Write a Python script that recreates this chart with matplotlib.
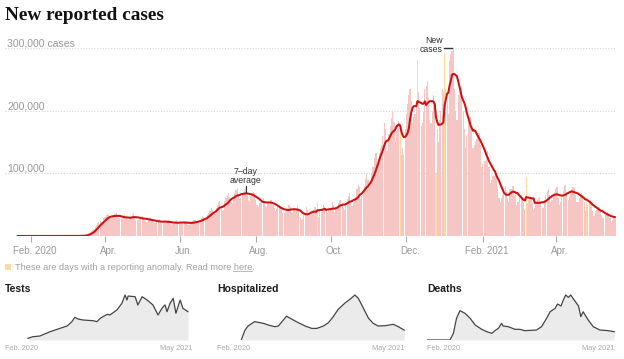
import numpy as np
import pandas as pd
import matplotlib
matplotlib.use('Agg')
import matplotlib.pyplot as plt
import matplotlib.dates as mdates
from matplotlib.transforms import ScaledTranslation
from matplotlib.patches import Rectangle
from matplotlib.lines import Line2D

plt.rcParams['font.family'] = ['Liberation Sans', 'DejaVu Sans']

# ---------------- data ----------------
start_date = '2020-01-21'
# daily new cases, thousands (weeks start on Tuesday)
daily_cases = [
    0, 0, 0, 0, 0, 0, 0,
    0, 0, 0, 0, 0, 0, 0,
    0, 0, 0, 0, 0, 0, 0,
    0, 0, 0, 0, 0, 0, 0,
    0, 0, 0, 0, 0, 0, 0,
    0, 0, 0, 0, 0, 0.01, 0.02,
    0.03, 0.05, 0.07, 0.09, 0.1, 0.13, 0.2,
    0.25, 0.3, 0.4, 0.5, 0.6, 0.8, 1.2,
    2, 3, 4.5, 6.5, 8, 9, 10.5,
    14, 17, 20, 22, 24, 22, 23,
    28, 31, 33, 35, 33, 29, 28,
    31, 33, 35, 36, 32, 29, 28,
    27, 30, 31, 33, 31, 27, 26,
    27, 30, 34, 36, 31, 26, 25,
    25, 28, 30, 32, 29, 25, 24,
    23, 25, 28, 29, 26, 22, 20,
    21, 22, 26, 27, 24, 20, 21,
    21, 22, 24, 26, 23, 19, 18,
    19, 21, 23, 25, 23, 19, 20,
    20, 21, 23, 24, 22, 18, 18,
    19, 22, 24, 26, 25, 21, 20,
    24, 26, 29, 32, 31, 27, 27,
    33, 36, 40, 45, 42, 36, 35,
    44, 50, 54, 56, 46, 40, 42,
    56, 60, 64, 69, 63, 55, 52,
    63, 68, 74, 76, 66, 59, 61,
    65, 71, 75, 78, 66, 58, 56,
    62, 68, 70, 68, 58, 50, 47,
    52, 55, 58, 60, 56, 48, 46,
    52, 55, 57, 58, 50, 44, 40,
    43, 46, 47, 48, 44, 36, 36,
    39, 42, 45, 49, 47, 39, 36,
    42, 40, 43, 49, 43, 31, 25,
    27, 34, 36, 47, 42, 35, 33,
    36, 38, 42, 46, 40, 54, 30,
    40, 39, 45, 49, 47, 40, 36,
    42, 41, 45, 54, 49, 38, 43,
    45, 52, 57, 58, 53, 44, 41,
    52, 59, 64, 69, 56, 48, 52,
    59, 62, 75, 81, 78, 59, 64,
    74, 80, 91, 99, 89, 78, 85,
    100, 110, 124, 133, 133, 115, 133,
    140, 145, 160, 180, 170, 135, 135,
    162, 175, 188, 198, 182, 150, 167,
    178, 184, 175, 130, 140, 130, 170,
    195, 210, 225, 235, 215, 180, 190,
    195, 210, 281, 230, 205, 175, 180,
    198, 235, 240, 248, 220, 185, 180,
    200, 225, 215, 100, 170, 150, 185,
    200, 235, 230, 290, 235, 215, 195,
    280, 290, 295, 300, 235, 200, 185,
    225, 230, 235, 240, 200, 170, 140,
    160, 185, 190, 190, 170, 140, 145,
    150, 155, 165, 165, 145, 110, 115,
    120, 120, 125, 135, 110, 85, 90,
    95, 95, 105, 95, 80, 60, 55,
    60, 65, 70, 80, 70, 60, 55,
    75, 75, 80, 80, 65, 50, 55,
    55, 62, 65, 62, 55, 42, 94,
    52, 58, 62, 60, 52, 42, 45,
    52, 58, 60, 62, 55, 45, 45,
    58, 65, 72, 75, 65, 55, 58,
    65, 70, 75, 78, 60, 50, 55,
    63, 72, 80, 82, 70, 58, 62,
    70, 75, 78, 76, 65, 55, 55,
    60, 65, 68, 65, 55, 40, 54,
    50, 55, 57, 52, 40, 32, 40,
    42, 44, 47, 42, 34, 28, 28,
    33, 36, 39, 36, 28, 21, 25,
    30, 32,
]
anomaly_days = ['2020-09-20', '2020-11-26', '2020-12-10', '2020-12-25',
                '2021-01-01', '2021-03-08', '2021-04-26']

grid_values = [100, 200, 300]
grid_labels = ['100,000', '200,000', '300,000 cases']
tick_dates = ['2020-02-01', '2020-04-01', '2020-06-01', '2020-08-01',
              '2020-10-01', '2020-12-01', '2021-02-01', '2021-04-01']
tick_labels = ['Feb. 2020', 'Apr.', 'Jun.', 'Aug.', 'Oct.', 'Dec.', 'Feb. 2021', 'Apr.']

tests_dates = ['2020-03-20', '2020-04-02', '2020-04-20', '2020-05-16', '2020-06-11',
               '2020-06-29', '2020-07-11', '2020-07-19', '2020-07-27', '2020-08-09',
               '2020-09-04', '2020-09-14', '2020-09-22', '2020-10-10', '2020-10-17',
               '2020-11-04', '2020-11-17', '2020-11-25', '2020-11-30', '2020-12-03',
               '2020-12-21', '2020-12-28', '2021-01-08', '2021-01-21', '2021-02-05',
               '2021-02-18', '2021-02-28', '2021-03-08', '2021-03-13', '2021-03-21',
               '2021-03-29', '2021-04-05', '2021-04-16', '2021-04-23', '2021-05-06']
tests_values = [75, 145, 176, 365, 515, 616, 805, 999, 924, 880,
                849, 805, 955, 1131, 1100, 1320, 1615, 1980, 1760, 1936,
                1905, 1540, 1905, 1760, 1540, 1100, 1395, 1540, 1245, 1615,
                1835, 1175, 1760, 1395, 1245]

hosp_dates = ['2020-03-24', '2020-04-02', '2020-04-10', '2020-04-27', '2020-05-10',
              '2020-05-19', '2020-06-01', '2020-06-18', '2020-06-27', '2020-07-10',
              '2020-07-18', '2020-07-27', '2020-08-17', '2020-09-04', '2020-09-21',
              '2020-10-04', '2020-10-21', '2020-11-03', '2020-11-15', '2020-11-28',
              '2020-12-16', '2020-12-28', '2021-01-10', '2021-01-19', '2021-02-01',
              '2021-02-14', '2021-02-26', '2021-03-11', '2021-03-29', '2021-04-19',
              '2021-05-02', '2021-05-17']
hosp_values = [2, 29, 41, 54, 51, 49, 44, 39, 41, 59,
               70, 64, 51, 41, 34, 34, 41, 51, 68, 90,
               109, 119, 132, 122, 93, 64, 49, 41, 42, 46,
               39, 29]

deaths_dates = ['2020-01-21', '2020-03-20', '2020-03-29', '2020-04-06', '2020-04-15',
                '2020-04-28', '2020-05-11', '2020-05-24', '2020-06-10', '2020-06-23',
                '2020-07-06', '2020-07-14', '2020-07-23', '2020-07-31', '2020-08-04',
                '2020-08-17', '2020-09-04', '2020-09-16', '2020-09-29', '2020-10-29',
                '2020-11-11', '2020-11-24', '2020-12-03', '2020-12-16', '2020-12-22',
                '2020-12-31', '2021-01-06', '2021-01-12', '2021-01-19', '2021-01-25',
                '2021-02-03', '2021-02-14', '2021-02-20', '2021-02-26', '2021-03-11',
                '2021-03-24', '2021-04-10', '2021-05-02', '2021-05-17']
deaths_values = [0, 0, 500, 1630, 2200, 2000, 1630, 1125, 800, 620,
                 500, 700, 880, 1250, 1050, 1000, 800, 800, 700, 750,
                 1000, 1630, 2120, 2380, 2700, 2550, 3000, 3375, 3200, 3375,
                 3000, 2550, 1750, 2120, 1500, 1000, 750, 700, 620]

# ---------------- style ----------------
PINK = '#f6c6c5'
ANOM = '#fcdca4'
RED = '#cf1010'
GRAY_TXT = '#999999'

W, H = 624, 359
fig = plt.figure(figsize=(W / 100, H / 100), dpi=100)


def pax(x0, y0, x1, y1):
    return fig.add_axes([x0 / W, 1 - y1 / H, (x1 - x0) / W, (y1 - y0) / H])


def ftext(x, y, s, **kw):
    return fig.text(x / W, 1 - y / H, s, **kw)


start = pd.Timestamp(start_date)
x_start = mdates.date2num(start)

# ---------------- main chart ----------------
ax = pax(5, 40, 615.5, 236)
dates = pd.date_range(start, periods=len(daily_cases), freq='D')
avg = pd.Series(daily_cases).rolling(7, min_periods=1).mean()
anom = set(pd.to_datetime(anomaly_days))
colors = [ANOM if d in anom else PINK for d in dates]
ax.bar(dates, daily_cases, width=0.92, color=colors, linewidth=0, zorder=2)
ax.plot(dates, avg, color=RED, lw=1.45, zorder=3, solid_joinstyle='round', solid_capstyle='round')
ax.set_xlim(x_start - 10.04, x_start + 484.4)
ax.set_ylim(0, 312.75)

for v, lab in zip(grid_values, grid_labels):
    ax.axhline(v, color='#d4d4d4', lw=0.8, ls=(0, (1, 1.5)), zorder=1)
    ax.text(0.0033, v + 2.5, lab, transform=ax.get_yaxis_transform(),
            va='baseline', ha='left', fontsize=7.6, color=GRAY_TXT)

ax.set_xticks(pd.to_datetime(tick_dates))
ax.set_xticklabels(tick_labels)
ax.tick_params(axis='x', length=4, width=0.8, color='#aaaaaa', labelcolor=GRAY_TXT,
               labelsize=7, pad=3)
ax.tick_params(axis='y', left=False, labelleft=False)
for s in ax.spines.values():
    s.set_visible(False)
offset = ScaledTranslation(3.5 / 100, 0, fig.dpi_scale_trans)
for lab in ax.get_xticklabels():
    lab.set_transform(lab.get_transform() + offset)

# annotations
d7 = pd.Timestamp('2020-07-24')
ax.plot([d7, d7], [68.7, 79], color='#333333', lw=0.8, zorder=4)
ax.text(d7, 102.6, '7–day', ha='center', va='center', fontsize=6.3, color='#333333')
ax.text(d7, 88.2, 'average', ha='center', va='center', fontsize=6.3, color='#333333')

n1 = start + pd.Timedelta(days=345.6)
n2 = start + pd.Timedelta(days=351.6)
ax.plot([n1, n2], [299.5, 299.5], color='#333333', lw=1, zorder=4, clip_on=False)
nt = start + pd.Timedelta(days=344.4)
ax.text(nt, 312.0, 'New', ha='right', va='center', fontsize=6.3, color='#333333', clip_on=False)
ax.text(nt, 297.3, 'cases', ha='right', va='center', fontsize=6.3, color='#333333',
        bbox=dict(facecolor='white', edgecolor='none', pad=0.3), zorder=5)

# title
ftext(5, 15, 'New reported cases', fontsize=13.9, fontweight='bold',
      family=['Liberation Serif', 'DejaVu Serif'], va='center', ha='left', color='#121212')

# legend
fig.patches.append(Rectangle((5 / W, 1 - 270.3 / H), 6 / W, 6 / H,
                             transform=fig.transFigure, color=ANOM, lw=0))
t1 = ftext(15, 267.3, 'These are days with a reporting anomaly. Read more here.',
           fontsize=6.6, color='#a0a0a0', va='center', ha='left')
fig.canvas.draw()
r = fig.canvas.get_renderer()
probe_a = ftext(15, 267.3, 'These are days with a reporting anomaly. Read more here',
                fontsize=6.6, va='center', ha='left')
probe_b = ftext(15, 267.3, 'These are days with a reporting anomaly. Read more',
                fontsize=6.6, va='center', ha='left')
xa = probe_a.get_window_extent(r).x1
xb = probe_b.get_window_extent(r).x1
probe_a.remove()
probe_b.remove()
space_w = 2.0
fig.lines.append(Line2D([(xb + space_w) / W, xa / W], [1 - 271 / H, 1 - 271 / H],
                        transform=fig.transFigure, color='#b0b0b0', lw=0.6))

# ---------------- small multiples ----------------
panels = [('Tests', 5, 193, tests_dates, tests_values),
          ('Hospitalized', 217, 405, hosp_dates, hosp_values),
          ('Deaths', 427, 615, deaths_dates, deaths_values)]
for title, x0, x1, dd, vv in panels:
    a = pax(x0, 293, x1, 340)
    dd = pd.to_datetime(dd)
    a.fill_between(dd, vv, 0, color='#ebebeb', lw=0)
    a.plot(dd, vv, color='#444444', lw=0.9)
    a.set_xlim(x_start, x_start + 484)
    a.set_ylim(0, max(vv) / 0.957)
    a.axis('off')
    ftext(x0, 288.5, title, fontsize=7.5, fontweight='bold', color='#1a1a1a',
          va='center', ha='left')
    ftext(x0, 349, 'Feb. 2020', fontsize=5.3, color='#aaaaaa', va='center', ha='left')
    ftext(x1, 349, 'May 2021', fontsize=5.3, color='#aaaaaa', va='center', ha='right')

fig.savefig('out.png', dpi=100)
